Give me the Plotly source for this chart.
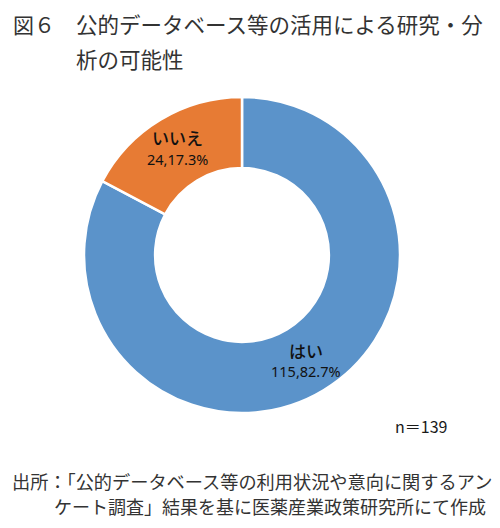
import math
import plotly.graph_objects as go

labels = ["はい", "いいえ"]
values = [115, 24]
colors = ["#5B93CA", "#E77B34"]
title_fig = "図６"
title_line1 = "公的データベース等の活用による研究・分"
title_line2 = "析の可能性"
n_text = "n＝139"
source_line1 = "出所：「公的データベース等の利用状況や意向に関するアン"
source_line2 = "ケート調査」結果を基に医薬産業政策研究所にて作成"

font_jp = "Noto Sans CJK JP"

# the page body has an 8px margin; size the figure to fill the rest
OFF = 8
W, H = 500 - OFF, 528 - OFF


def fx(px):
    return (px - OFF) / W


def fy(py):
    return 1 - (py - OFF) / H


# donut geometry in page pixels
CX, CY, R_OUT = 242, 255, 158
HOLE = 0.55
R_TXT = 124

fig = go.Figure(go.Pie(
    labels=labels,
    values=values,
    hole=HOLE,
    sort=False,
    direction="clockwise",
    rotation=0,
    marker=dict(colors=colors, line=dict(color="white", width=2.5)),
    textinfo="none",
    showlegend=False,
    hoverinfo="skip",
    domain=dict(x=[fx(CX - R_OUT), fx(CX + R_OUT)], y=[fy(CY + R_OUT), fy(CY - R_OUT)]),
))

annots = []
total = sum(values)
start = 0.0
for lab, val in zip(labels, values):
    span = val / total * 360
    mid = math.radians(start + span / 2)
    start += span
    px = CX + R_TXT * math.sin(mid)
    py = CY - R_TXT * math.cos(mid)
    annots.append(dict(text=lab, x=fx(px), y=fy(py - 11), xanchor="center", yanchor="middle",
                       font=dict(family=font_jp, size=17, color="#111111", weight=500)))
    annots.append(dict(text=f"{val},{val / total * 100:.1f}%", x=fx(px), y=fy(py + 10),
                       xanchor="center", yanchor="middle",
                       font=dict(family="Noto Sans", size=14.5, color="#111111")))

annots += [
    dict(text=title_fig, x=fx(12), y=fy(23.5), xanchor="left", yanchor="middle",
         font=dict(family=font_jp, size=21, color="#333333")),
    dict(text=title_line1, x=fx(75), y=fy(23.5), xanchor="left", yanchor="middle",
         font=dict(family=font_jp, size=21.5, color="#333333")),
    dict(text=title_line2, x=fx(75), y=fy(59), xanchor="left", yanchor="middle",
         font=dict(family=font_jp, size=21.5, color="#333333")),
    dict(text=n_text, x=fx(421), y=fy(426), xanchor="center", yanchor="middle",
         font=dict(family=font_jp, size=16, color="#1a1a1a")),
    dict(text=source_line1, x=fx(11), y=fy(481), xanchor="left", yanchor="middle",
         font=dict(family=font_jp, size=18.2, color="#333333")),
    dict(text=source_line2, x=fx(487), y=fy(506), xanchor="right", yanchor="middle",
         font=dict(family=font_jp, size=18, color="#333333")),
]
for a in annots:
    a.update(xref="paper", yref="paper", showarrow=False, borderpad=0)

fig.update_layout(
    width=W, height=H,
    margin=dict(l=0, r=0, t=0, b=0),
    paper_bgcolor="white",
    plot_bgcolor="white",
    annotations=annots,
)

fig.write_html("out.html")
